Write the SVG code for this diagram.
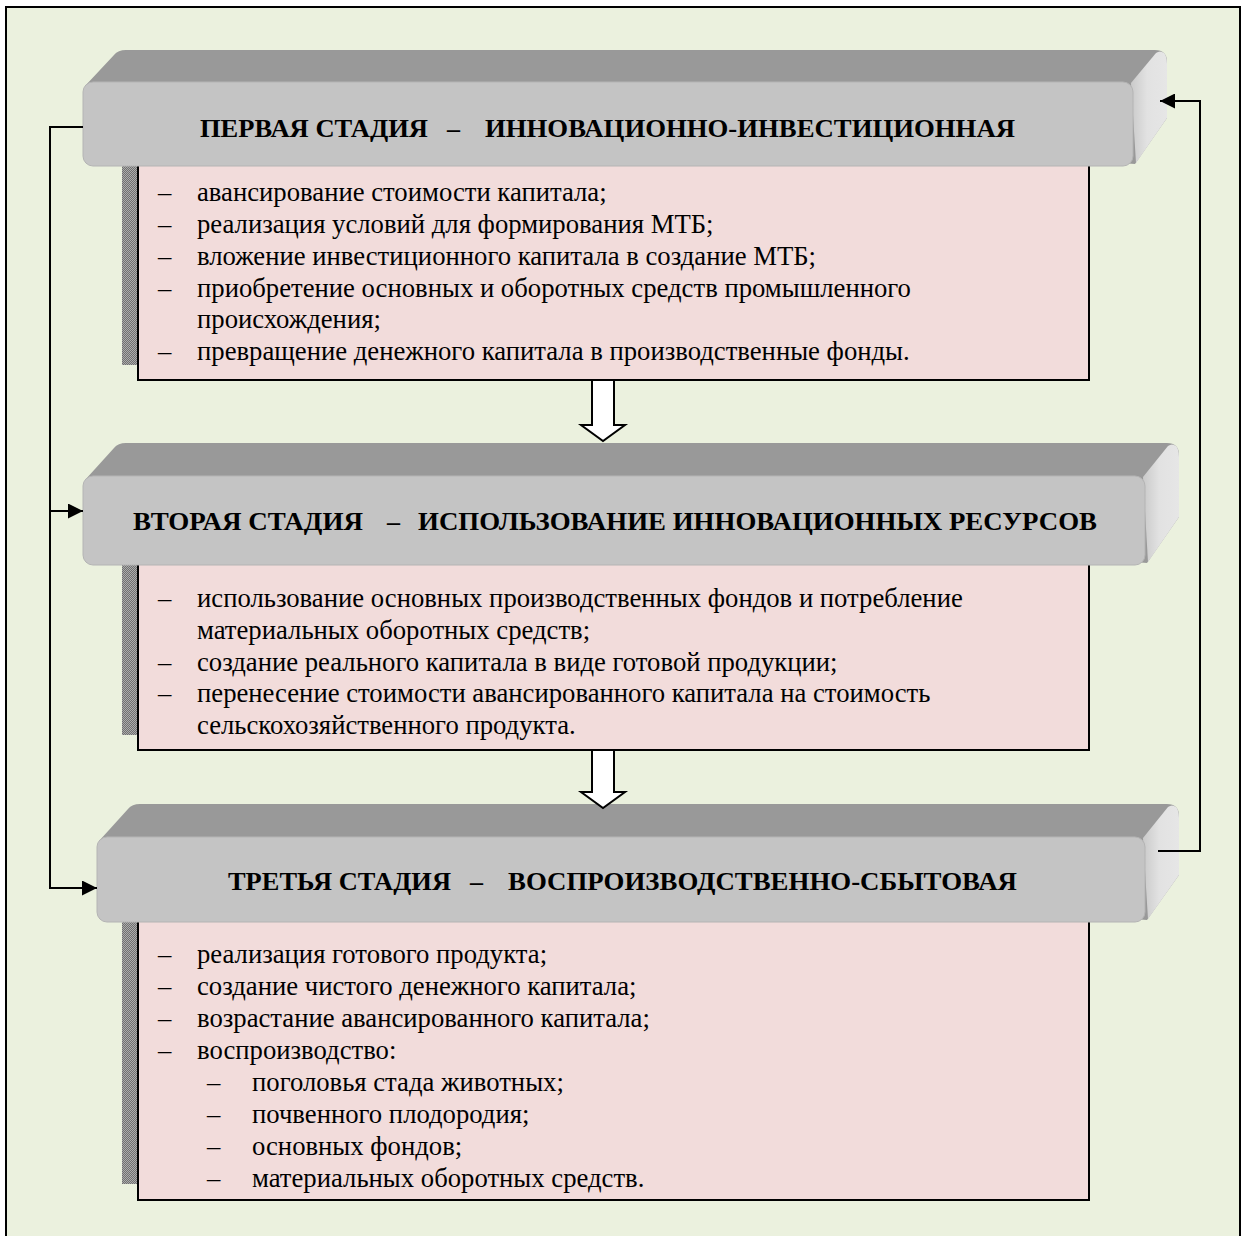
<svg xmlns="http://www.w3.org/2000/svg" width="1246" height="1236" viewBox="0 0 1246 1236">
  <style>
    .frame { fill: #EBF1DE; stroke: #000; stroke-width: 2; }
    .topface { fill: #999999; }
    .sideface { fill: url(#sideGrad); }
    .front { fill: #C4C4C4; stroke: #B4B4B4; stroke-width: 1; }
    .panel { fill: #F2DCDB; stroke: #000; stroke-width: 2; }
    .shadow { fill: url(#dots); }
    .item { font-family: "Liberation Serif", "Times New Roman", serif; font-size: 26.7px; fill: #000; }
    .link { fill: none; stroke: #000; stroke-width: 2; }
    .flow { fill: #FFF; stroke: #000; stroke-width: 2; stroke-linejoin: miter; }
  </style>
  <defs>
    <pattern id="dots" width="2" height="2" patternUnits="userSpaceOnUse">
      <rect width="2" height="2" fill="#707070"/>
      <rect width="1" height="1" fill="#ABABAB"/>
      <rect x="1" y="1" width="1" height="1" fill="#ABABAB"/>
    </pattern>
    <linearGradient id="sideGrad" x1="0" y1="0" x2="1" y2="0">
      <stop offset="0" stop-color="#CACACA"/>
      <stop offset="0.45" stop-color="#E2E2E2"/>
      <stop offset="1" stop-color="#E6E6E6"/>
    </linearGradient>
    <marker id="arrow" viewBox="0 0 16 16" refX="16" refY="8" markerWidth="16" markerHeight="15" markerUnits="userSpaceOnUse" orient="auto">
      <path d="M0,0 L16,8 L0,16 Z" fill="#000"/>
    </marker>
  </defs>

  <!-- background frame -->
  <rect class="frame" x="6" y="7" width="1234" height="1240"/>

  <!-- stage 1 -->
  <g id="stage1">
    <rect class="shadow" x="122" y="160" width="16" height="205"/>
    <rect class="panel" x="138" y="160" width="951" height="220"/>
    <path class="topface" d="M85,86 L114,55 Q118,50 126,50 L1155,50 Q1167,50 1167,62 L1167,118 L1135,164 Z"/>
    <path class="sideface" d="M1131,83 L1156,53 Q1160,50 1164,53 Q1167,56 1167,64 L1167,118 L1136,163 Z"/>
    <rect class="front" x="83" y="82" width="1050" height="84" rx="10"/>
    <text font-family="'Liberation Serif', 'Times New Roman', serif" font-size="26" font-weight="700" y="137"><tspan x="200" textLength="228" lengthAdjust="spacingAndGlyphs">ПЕРВАЯ СТАДИЯ</tspan><tspan x="447">–</tspan><tspan x="485" textLength="530" lengthAdjust="spacingAndGlyphs">ИННОВАЦИОННО-ИНВЕСТИЦИОННАЯ</tspan></text>
    <g class="item">
      <text y="201"><tspan x="158">–</tspan><tspan x="197">авансирование стоимости капитала;</tspan></text>
      <text y="233"><tspan x="158">–</tspan><tspan x="197">реализация условий для формирования МТБ;</tspan></text>
      <text y="265"><tspan x="158">–</tspan><tspan x="197">вложение инвестиционного капитала в создание МТБ;</tspan></text>
      <text y="297"><tspan x="158">–</tspan><tspan x="197">приобретение основных и оборотных средств промышленного</tspan></text>
      <text y="328"><tspan x="197">происхождения;</tspan></text>
      <text y="360"><tspan x="158">–</tspan><tspan x="197">превращение денежного капитала в производственные фонды.</tspan></text>
    </g>
  </g>

  <!-- stage 2 -->
  <g id="stage2">
    <rect class="shadow" x="122" y="560" width="16" height="175"/>
    <rect class="panel" x="138" y="560" width="951" height="190"/>
    <path class="topface" d="M85,480 L114,448 Q118,443 126,443 L1167,443 Q1179,443 1179,455 L1179,517 L1147,563 Z"/>
    <path class="sideface" d="M1143,477 L1168,446 Q1172,443 1176,446 Q1179,449 1179,457 L1179,517 L1148,562 Z"/>
    <rect class="front" x="83" y="476" width="1062" height="89" rx="10"/>
    <text font-family="'Liberation Serif', 'Times New Roman', serif" font-size="26" font-weight="700" y="530"><tspan x="133" textLength="230" lengthAdjust="spacingAndGlyphs">ВТОРАЯ СТАДИЯ</tspan><tspan x="387">–</tspan><tspan x="418" textLength="679" lengthAdjust="spacingAndGlyphs">ИСПОЛЬЗОВАНИЕ ИННОВАЦИОННЫХ РЕСУРСОВ</tspan></text>
    <g class="item">
      <text y="607"><tspan x="158">–</tspan><tspan x="197">использование основных производственных фондов и потребление</tspan></text>
      <text y="639"><tspan x="197">материальных оборотных средств;</tspan></text>
      <text y="671"><tspan x="158">–</tspan><tspan x="197">создание реального капитала в виде готовой продукции;</tspan></text>
      <text y="702"><tspan x="158">–</tspan><tspan x="197">перенесение стоимости авансированного капитала на стоимость</tspan></text>
      <text y="734"><tspan x="197">сельскохозяйственного продукта.</tspan></text>
    </g>
  </g>

  <!-- stage 3 -->
  <g id="stage3">
    <rect class="shadow" x="122" y="916" width="16" height="268"/>
    <rect class="panel" x="138" y="916" width="951" height="284"/>
    <path class="topface" d="M99,841 L128,809 Q132,804 140,804 L1167,804 Q1179,804 1179,816 L1179,875 L1147,920 Z"/>
    <path class="sideface" d="M1143,838 L1168,807 Q1172,804 1176,807 Q1179,810 1179,818 L1179,875 L1148,919 Z"/>
    <rect class="front" x="97" y="837" width="1048" height="85" rx="10"/>
    <text font-family="'Liberation Serif', 'Times New Roman', serif" font-size="26" font-weight="700" y="890"><tspan x="228" textLength="223" lengthAdjust="spacingAndGlyphs">ТРЕТЬЯ СТАДИЯ</tspan><tspan x="470">–</tspan><tspan x="508" textLength="509" lengthAdjust="spacingAndGlyphs">ВОСПРОИЗВОДСТВЕННО-СБЫТОВАЯ</tspan></text>
    <g class="item">
      <text y="963"><tspan x="158">–</tspan><tspan x="197">реализация готового продукта;</tspan></text>
      <text y="995"><tspan x="158">–</tspan><tspan x="197">создание чистого денежного капитала;</tspan></text>
      <text y="1027"><tspan x="158">–</tspan><tspan x="197">возрастание авансированного капитала;</tspan></text>
      <text y="1059"><tspan x="158">–</tspan><tspan x="197">воспроизводство:</tspan></text>
      <text y="1091"><tspan x="207">–</tspan><tspan x="252">поголовья стада животных;</tspan></text>
      <text y="1123"><tspan x="207">–</tspan><tspan x="252">почвенного плодородия;</tspan></text>
      <text y="1155"><tspan x="207">–</tspan><tspan x="252">основных фондов;</tspan></text>
      <text y="1187"><tspan x="207">–</tspan><tspan x="252">материальных оборотных средств.</tspan></text>
    </g>
  </g>

  <!-- connectors -->
  <g id="connectors">
    <path class="flow" d="M592,380 L592,425 L581,425 L603,441 L625,425 L614,425 L614,380 Z"/>
    <path class="flow" d="M592,750 L592,792 L581,792 L603,808 L625,792 L614,792 L614,750 Z"/>
    <path class="link" d="M83,127 L50,127 L50,888 L97,888" marker-end="url(#arrow)"/>
    <path class="link" d="M50,511 L83,511" marker-end="url(#arrow)"/>
    <path class="link" d="M1158,851 L1200,851 L1200,101 L1160,101" marker-end="url(#arrow)"/>
  </g>
</svg>
